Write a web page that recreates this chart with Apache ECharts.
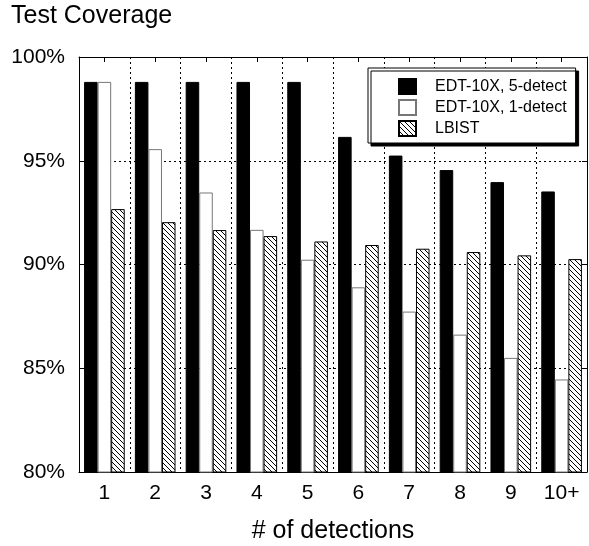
<!DOCTYPE html>
<html>
<head>
<meta charset="utf-8">
<script src="https://cdn.jsdelivr.net/npm/echarts@6/dist/echarts.min.js"></script>
<style>
  html, body { margin: 0; padding: 0; background: #fff; }
  #container { width: 589px; height: 546px; }
</style>
</head>
<body>
<div id="container"></div>
<script>
// data
var categories = ['1', '2', '3', '4', '5', '6', '7', '8', '9', '10+'];
var edt5 = [98.8, 98.8, 98.8, 98.8, 98.8, 96.15, 95.25, 94.55, 93.97, 93.52];
var edt1 = [98.8, 95.56, 93.47, 91.67, 90.23, 88.9, 87.73, 86.62, 85.5, 84.46];
var lbist = [92.67, 92.04, 91.66, 91.37, 91.11, 90.94, 90.76, 90.6, 90.44, 90.26];
var seriesNames = ['EDT-10X, 5-detect', 'EDT-10X, 1-detect', 'LBIST'];

var FONT = '"Liberation Sans", Arial, sans-serif';

// "\\\" hatch
function hatch() {
    var s = 5;
    var c = document.createElement('canvas');
    c.width = s; c.height = s;
    var ctx = c.getContext('2d');
    ctx.fillStyle = '#fff';
    ctx.fillRect(0, 0, s, s);
    ctx.strokeStyle = '#000';
    ctx.lineWidth = 1;
    ctx.beginPath();
    ctx.moveTo(-1, -1); ctx.lineTo(s + 1, s + 1);
    ctx.moveTo(-1, s - 1); ctx.lineTo(1, s + 1);
    ctx.moveTo(s - 1, -1); ctx.lineTo(s + 1, 1);
    ctx.stroke();
    return c;
}

var myChart = echarts.init(document.getElementById('container'));

var dash = { color: '#000', width: 1, type: [2, 3] };

option = {
    backgroundColor: '#fff',
    animation: false,
    title: {
        text: 'Test Coverage',
        left: 11,
        top: 4,
        padding: 0,
        textStyle: { fontFamily: FONT, fontSize: 25, fontWeight: 'normal', color: '#000' }
    },
    legend: {
        orient: 'vertical',
        left: 368,
        top: 68,
        padding: [10, 9, 6, 30],
        icon: 'rect',
        itemWidth: 17,
        itemHeight: 15,
        itemGap: 4,
        backgroundColor: '#fff',
        borderColor: '#000',
        borderWidth: 1,
        shadowColor: '#000',
        shadowBlur: 0,
        shadowOffsetX: 3,
        shadowOffsetY: 3,
        selectedMode: false,
        textStyle: { fontFamily: FONT, fontSize: 16, color: '#000', padding: [0, 0, 0, 14] },
        data: seriesNames
    },
    grid: { left: 79, top: 57, right: 2, bottom: 74, containLabel: false, outerBoundsMode: 'none' },
    xAxis: [{
        type: 'category',
        data: categories,
        position: 'bottom',
        axisLine: { lineStyle: { color: '#000', width: 1 } },
        axisTick: { show: true, inside: true, alignWithLabel: true, length: 5, lineStyle: { color: '#000' } },
        axisLabel: { fontFamily: FONT, fontSize: 21, color: '#000', margin: 11, interval: 0 },
        splitLine: { show: true, interval: 0, lineStyle: dash },
        name: '# of detections',
        nameLocation: 'middle',
        nameGap: 47,
        nameTextStyle: { fontFamily: FONT, fontSize: 25, color: '#000' }
    }, {
        type: 'category',
        data: categories,
        position: 'top',
        axisLine: { lineStyle: { color: '#000', width: 1 } },
        axisTick: { show: true, inside: true, alignWithLabel: true, length: 5, lineStyle: { color: '#000' } },
        axisLabel: { show: false },
        splitLine: { show: false }
    }],
    yAxis: [{
        type: 'value',
        min: 80,
        max: 100,
        interval: 5,
        position: 'left',
        axisLine: { show: true, lineStyle: { color: '#000', width: 1 } },
        axisTick: { show: true, inside: true, length: 5, lineStyle: { color: '#000' } },
        axisLabel: { fontFamily: FONT, fontSize: 21, color: '#000', margin: 14, formatter: '{value}%' },
        splitLine: { show: true, lineStyle: dash }
    }, {
        type: 'value',
        min: 80,
        max: 100,
        interval: 5,
        position: 'right',
        axisLine: { show: true, lineStyle: { color: '#000', width: 1 } },
        axisTick: { show: true, inside: true, length: 5, lineStyle: { color: '#000' } },
        axisLabel: { show: false },
        splitLine: { show: false }
    }],
    series: [{
        name: seriesNames[0],
        type: 'bar',
        data: edt5,
        barGap: 0,
        barCategoryGap: '20%',
        itemStyle: { color: '#000', borderColor: '#000', borderWidth: 1 }
    }, {
        name: seriesNames[1],
        type: 'bar',
        data: edt1,
        barGap: 0,
        barCategoryGap: '20%',
        itemStyle: { color: '#fff', borderColor: '#777', borderWidth: 1 }
    }, {
        name: seriesNames[2],
        type: 'bar',
        data: lbist,
        barGap: 0,
        barCategoryGap: '20%',
        itemStyle: { color: { image: hatch(), repeat: 'repeat' }, borderColor: '#000', borderWidth: 1 }
    }]
};

if (option && typeof option === "object") {
    myChart.setOption(option, true);
}
</script>
</body>
</html>
